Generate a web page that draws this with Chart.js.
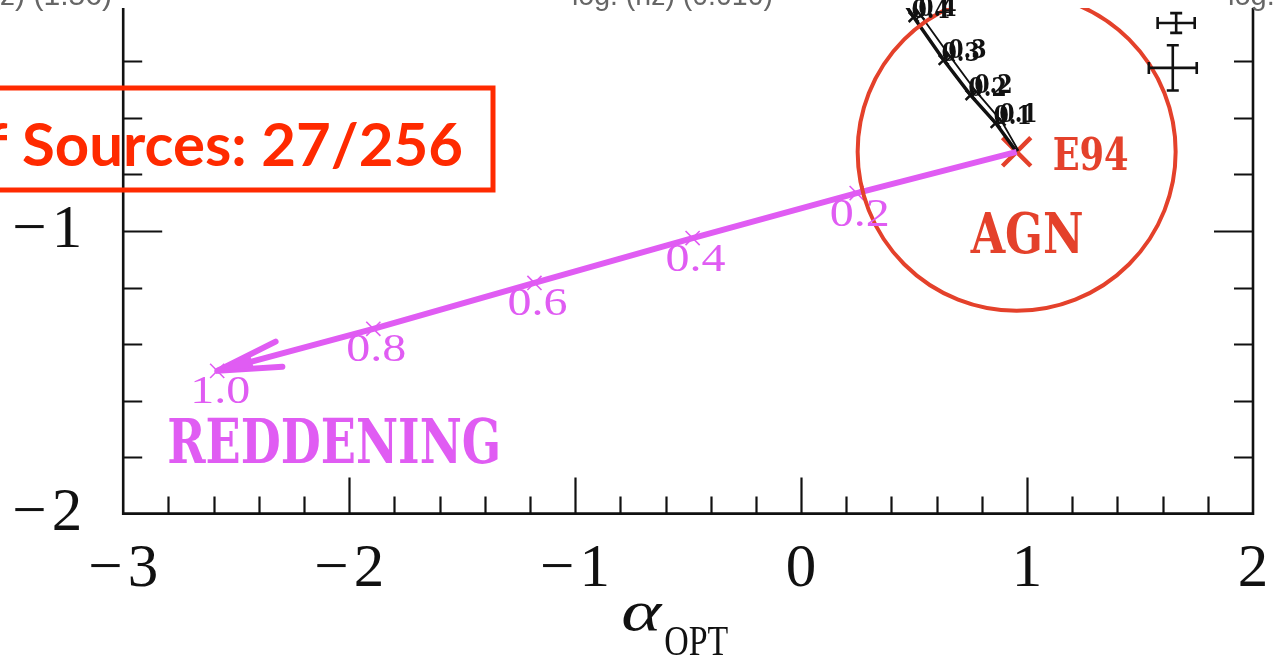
<!DOCTYPE html>
<html>
<head>
<meta charset="utf-8">
<script src="https://cdn.jsdelivr.net/npm/chart.js@4.4.1/dist/chart.umd.min.js"></script>
<style>
  html, body { margin: 0; padding: 0; background: #fff; overflow: hidden; }
  #wrap { width: 1275px; height: 663px; position: relative; }
</style>
</head>
<body>
<div id="wrap"><canvas id="c" width="1275" height="663"></canvas></div>
<script>
// Reddening vector starting at the E94 template, marked in steps of E(B-V)
const reddLabels = ['', '0.2', '0.4', '0.6', '0.8', '1.0'];
const reddX = [0.954, 0.246, -0.480, -1.180, -1.893, -2.584];
const reddY = [-0.720, -0.866, -1.025, -1.184, -1.346, -1.495];

// Host-galaxy contamination tracks leaving E94
const trackLabels = ['', '0.1', '0.2', '0.3', '0.4', ''];
const trackAX = [0.954, 0.861, 0.750, 0.631, 0.498, 0.370];
const trackAY = [-0.720, -0.618, -0.519, -0.395, -0.243, -0.090];
const trackBX = [0.962, 0.887, 0.776, 0.661, 0.528, 0.400];
const trackBY = [-0.716, -0.611, -0.508, -0.384, -0.236, -0.080];

// E94 mean quasar template
const e94X = [0.954];
const e94Y = [-0.720];

// Typical uncertainties (centre and half-widths)
const errX = [1.660, 1.645];
const errY = [-0.264, -0.423];
const errDX = [0.082, 0.106];
const errDY = [0.035, 0.080];

// Axes
const xMajor = [-3, -2, -1, 0, 1, 2];
const yMajor = [-2, -1];
const minorStep = 0.2;

// Text cut off along the top edge
const topTexts = ['z) (1.56)', 'log. (nz) (0.010)', 'log.'];
const boxText = 'Number of Sources: 27/256';

const MAG = '#e05cf3';
const RED = '#e4412b';
const BOX = '#ff2a00';
const INK = '#111';

const fmt = v => (v < 0 ? '\u2212\u200a' : '') + Math.abs(v);
const isMajor = v => Math.abs(v - Math.round(v)) < 1e-6;

function text(ctx, str, x, y, font, color, opts = {}) {
  ctx.save();
  ctx.font = font;
  ctx.fillStyle = color;
  ctx.textAlign = opts.align || 'left';
  ctx.textBaseline = opts.baseline || 'alphabetic';
  let sx = opts.sx || 1;
  if (opts.fit) sx = opts.fit / ctx.measureText(str).width;
  ctx.translate(x, y);
  ctx.scale(sx, 1);
  ctx.fillText(str, 0, 0);
  ctx.restore();
}

const frame = {
  id: 'frame',
  afterDatasetsDraw(chart) {
    const { ctx, chartArea: a, scales: { x, y } } = chart;
    ctx.save();
    ctx.strokeStyle = INK;
    ctx.lineWidth = 2.6;
    ctx.beginPath();
    ctx.moveTo(a.left, a.top);
    ctx.lineTo(a.left, a.bottom);
    ctx.lineTo(a.right, a.bottom);
    ctx.lineTo(a.right, a.top);
    ctx.stroke();

    ctx.lineWidth = 2.2;
    ctx.beginPath();
    const nx = Math.round((x.max - x.min) / minorStep);
    for (let i = 1; i < nx; i++) {
      const v = x.min + i * minorStep;
      const p = Math.round(x.getPixelForValue(v)) + 0.5;
      const len = isMajor(v) ? 36 : 17;
      ctx.moveTo(p, a.bottom);
      ctx.lineTo(p, a.bottom - len);
    }
    const ny = Math.floor((y.max - y.min) / minorStep + 1e-6);
    for (let i = 1; i <= ny; i++) {
      const v = y.min + i * minorStep;
      const p = Math.round(y.getPixelForValue(v)) + 0.5;
      const len = isMajor(v) ? 39 : 19;
      ctx.moveTo(a.left, p);
      ctx.lineTo(a.left + len, p);
      ctx.moveTo(a.right, p);
      ctx.lineTo(a.right - len, p);
    }
    ctx.stroke();
    ctx.restore();
  }
};

const notes = {
  id: 'notes',
  afterDatasetsDraw(chart) {
    const { ctx, chartArea: a, scales: { x, y } } = chart;

    // reddening arrowhead
    const rm = chart.getDatasetMeta(1).data;
    const tip = rm[rm.length - 1], prev = rm[rm.length - 2];
    const dx = prev.x - tip.x, dy = prev.y - tip.y, d = Math.hypot(dx, dy);
    const ux = dx / d, uy = dy / d;
    ctx.save();
    ctx.strokeStyle = MAG; ctx.fillStyle = MAG;
    ctx.lineWidth = 6; ctx.lineCap = 'round'; ctx.lineJoin = 'round';
    ctx.beginPath();
    ctx.moveTo(tip.x + ux * 64 - uy * 13, tip.y + uy * 64 + ux * 13);
    ctx.lineTo(tip.x, tip.y);
    ctx.lineTo(tip.x + ux * 64 + uy * 13, tip.y + uy * 64 - ux * 13);
    ctx.stroke();
    ctx.beginPath();
    ctx.moveTo(tip.x, tip.y);
    ctx.lineTo(tip.x + ux * 36 - uy * 6, tip.y + uy * 36 + ux * 6);
    ctx.lineTo(tip.x + ux * 36 + uy * 6, tip.y + uy * 36 - ux * 6);
    ctx.closePath();
    ctx.fill();
    ctx.restore();

    // reddening step labels
    rm.forEach((pt, i) => {
      if (reddLabels[i]) text(ctx, reddLabels[i], pt.x + 3, pt.y + 22, '40px "Liberation Serif"', MAG,
        { align: 'center', baseline: 'middle', sx: 1.2 });
    });
    text(ctx, 'REDDENING', tip.x - 50, tip.y + 92, 'bold 62px "DejaVu Serif"', MAG, { fit: 334 });

    // contamination track labels
    [2, 3].forEach(di => {
      chart.getDatasetMeta(di).data.forEach((pt, i) => {
        if (trackLabels[i]) text(ctx, trackLabels[i], pt.x + 17, pt.y - 6, 'bold 26px "DejaVu Serif"', INK,
          { align: 'center', baseline: 'middle', sx: 0.85 });
      });
    });

    // E94 / AGN labels
    const e = chart.getDatasetMeta(4).data[0];
    text(ctx, 'E94', e.x + 36, e.y + 18, 'bold 45px "DejaVu Serif"', RED, { fit: 76 });
    text(ctx, 'AGN', e.x - 46, e.y + 101, 'bold 56px "DejaVu Serif"', RED, { fit: 113 });

    // error bars
    ctx.save();
    ctx.strokeStyle = INK; ctx.lineWidth = 2.6;
    ctx.beginPath();
    errX.forEach((cx, i) => {
      const x0 = x.getPixelForValue(cx - errDX[i]), x1 = x.getPixelForValue(cx + errDX[i]);
      const y0 = y.getPixelForValue(errY[i] - errDY[i]), y1 = y.getPixelForValue(errY[i] + errDY[i]);
      const xc = x.getPixelForValue(cx), yc = y.getPixelForValue(errY[i]);
      ctx.moveTo(x0, yc); ctx.lineTo(x1, yc);
      ctx.moveTo(x0, yc - 6); ctx.lineTo(x0, yc + 6);
      ctx.moveTo(x1, yc - 6); ctx.lineTo(x1, yc + 6);
      ctx.moveTo(xc, y0); ctx.lineTo(xc, y1);
      ctx.moveTo(xc - 6, y0); ctx.lineTo(xc + 6, y0);
      ctx.moveTo(xc - 6, y1); ctx.lineTo(xc + 6, y1);
    });
    ctx.stroke();
    ctx.restore();

    // x-axis title: alpha with OPT subscript
    const tx = x.getPixelForValue(-0.8);
    text(ctx, '\u03b1', tx + 1, 630, 'italic 58px "Liberation Serif"', INK, { fit: 40 });
    text(ctx, 'OPT', tx + 44, 655, '42px "Liberation Serif"', INK, { fit: 64 });

    // source count box
    ctx.save();
    ctx.strokeStyle = BOX; ctx.lineWidth = 5;
    ctx.strokeRect(-20, 88, 513, 102);
    ctx.font = 'bold 60px Lato';
    const sx = 441 / ctx.measureText('Sources: 27/256').width;
    ctx.restore();
    text(ctx, boxText, 463, 166, 'bold 60px Lato', BOX, { align: 'right', sx });

    // headings cut by the top edge
    text(ctx, topTexts[0], 0, 5, '29px "Liberation Sans"', '#666', { fit: 112 });
    text(ctx, topTexts[1], 572, 5, '29px "Liberation Sans"', '#666', { fit: 201 });
    text(ctx, topTexts[2], 1228, 5, '29px "Liberation Sans"', '#666');
  }
};

const pts = (xs, ys) => xs.map((v, i) => ({ x: v, y: ys[i] }));

new Chart(document.getElementById('c'), {
  type: 'scatter',
  data: {
    datasets: [
      { // AGN locus around E94
        data: pts(e94X, e94Y), pointStyle: 'circle', pointRadius: 159,
        pointBorderColor: RED, pointBackgroundColor: 'rgba(0,0,0,0)', pointBorderWidth: 4, clip: 0
      },
      { // reddening vector
        data: pts(reddX, reddY), showLine: true, borderColor: MAG, borderWidth: 6,
        pointStyle: 'crossRot', pointRadius: reddX.map((v, i) => i === 0 ? 0 : 10),
        pointBorderColor: MAG, pointBorderWidth: 1.6, clip: 0
      },
      { // contamination track A
        data: pts(trackAX, trackAY), showLine: true, borderColor: INK, borderWidth: 3.5,
        pointStyle: 'crossRot', pointRadius: trackAX.map((v, i) => i === 0 ? 0 : 7),
        pointBorderColor: INK, pointBorderWidth: 2.5, clip: 0
      },
      { // contamination track B
        data: pts(trackBX, trackBY), showLine: true, borderColor: INK, borderWidth: 1.8,
        pointStyle: 'crossRot', pointRadius: trackBX.map((v, i) => i === 0 ? 0 : 6),
        pointBorderColor: INK, pointBorderWidth: 1.8, clip: 0
      },
      { // E94 template
        data: pts(e94X, e94Y), pointStyle: 'crossRot', pointRadius: 20,
        pointBorderColor: RED, pointBorderWidth: 4.5, clip: 0
      }
    ]
  },
  options: {
    responsive: false,
    animation: false,
    events: [],
    layout: { autoPadding: false, padding: { top: 8, right: 22, left: 0, bottom: 0 } },
    plugins: { legend: { display: false }, tooltip: { enabled: false } },
    scales: {
      x: {
        type: 'linear', min: -3, max: 2,
        grid: { display: false, drawTicks: false },
        border: { display: false },
        afterBuildTicks: s => { s.ticks = xMajor.map(v => ({ value: v })); },
        afterFit: s => { s.height = 149.4; s.paddingLeft = 0; s.paddingRight = 0; },
        ticks: {
          font: { family: '"Liberation Serif"', size: 61 }, color: INK,
          padding: 20, maxRotation: 0, autoSkip: false, callback: v => fmt(v)
        }
      },
      y: {
        type: 'linear', min: -2, max: -0.211,
        grid: { display: false, drawTicks: false },
        border: { display: false },
        afterBuildTicks: s => { s.ticks = yMajor.map(v => ({ value: v })); },
        afterFit: s => { s.width = 123.2; s.paddingTop = 0; s.paddingBottom = 0; },
        ticks: {
          font: { family: '"Liberation Serif"', size: 61 }, color: INK,
          padding: 41, autoSkip: false, callback: v => fmt(v)
        }
      }
    }
  },
  plugins: [frame, notes]
});
</script>
</body>
</html>
